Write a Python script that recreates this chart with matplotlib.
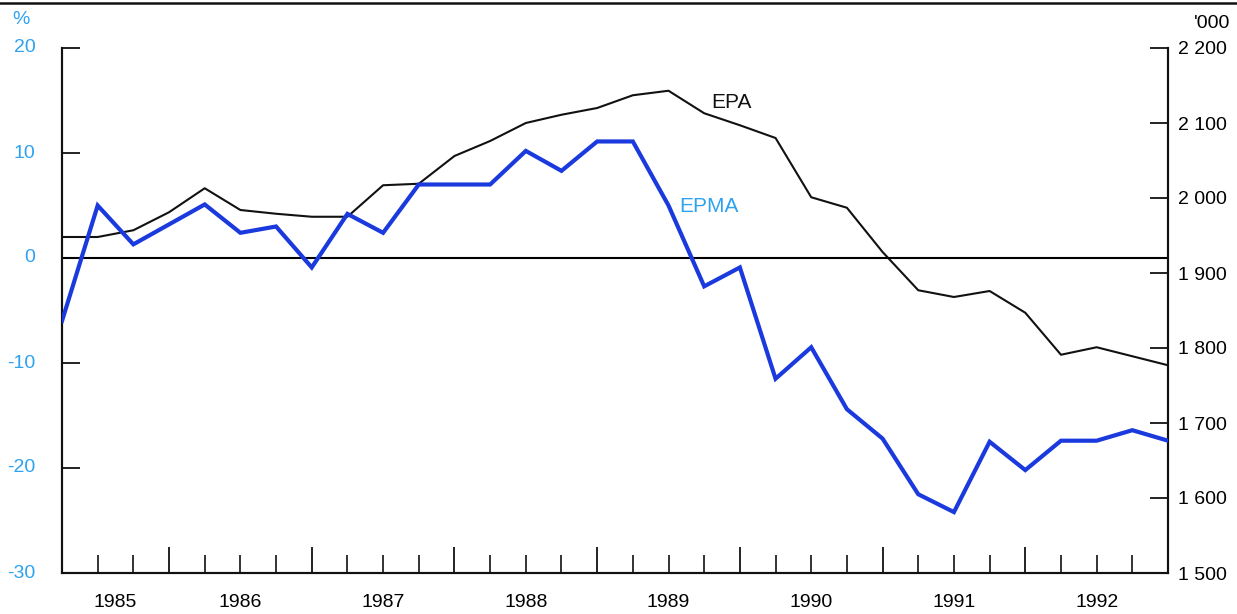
import matplotlib.pyplot as plt
from matplotlib.lines import Line2D
from matplotlib.ticker import FuncFormatter
import matplotlib.transforms as mtransforms

# quarterly observations, Q4 1984 .. Q3 1992
quarters = list(range(32))

epma = [-6.0, 5.0, 1.3, 3.2, 5.1, 2.4, 3.0, -0.9,
        4.2, 2.4, 7.0, 7.0, 7.0, 10.2, 8.3, 11.1,
        11.1, 5.0, -2.7, -0.9, -11.5, -8.5, -14.4, -17.2,
        -22.5, -24.2, -17.5, -20.2, -17.4, -17.4, -16.4, -17.4]

epa = [1948, 1948, 1957, 1981, 2013, 1984, 1979, 1975,
       1975, 2017, 2019, 2056, 2076, 2100, 2111, 2120,
       2137, 2143, 2113, 2097, 2080, 2001, 1987, 1928,
       1877, 1868, 1876, 1847, 1791, 1801, 1789, 1777]

yearLabels = ["1985", "1986", "1987", "1988", "1989", "1990", "1991", "1992"]
yearPositions = [1.5, 5, 9, 13, 17, 21, 25, 29]

leftTicks = [-30, -20, -10, 0, 10, 20]
rightTicks = [1500, 1600, 1700, 1800, 1900, 2000, 2100, 2200]

lightBlue = '#2ea2f0'
lineBlue = '#1a3ade'

plt.rcParams['font.family'] = ['Liberation Sans', 'DejaVu Sans']

fig = plt.figure(figsize=(12.37, 6.14), dpi=100)
ax = fig.add_axes([62/1237, 41/614, 1106/1237, 525/614])
ax2 = ax.twinx()

# EPA on the right scale, EPMA on the left
ax2.plot(quarters, epa, color='#111111', lw=1.5, zorder=2)
ax.plot(quarters, epma, color=lineBlue, lw=3.0, zorder=3, solid_joinstyle='miter')
ax.axhline(0, color='black', lw=1.5, zorder=1)

ax.set_zorder(ax2.get_zorder() + 1)
ax.patch.set_visible(False)

ax.set_xlim(0, 31)
ax.set_ylim(-30, 20)
ax2.set_ylim(1500, 2200)

for a in (ax, ax2):
    a.spines['top'].set_visible(False)
    for s in ('left', 'right', 'bottom'):
        a.spines[s].set_linewidth(1.5)
        a.spines[s].set_color('#111111')

# left axis
ax.set_yticks([t for t in leftTicks if t not in (0, -30)])
ax.set_yticklabels([])
ax.tick_params(axis='y', direction='in', length=13, width=1.3, color='#111111')
for t in leftTicks:
    ax.text(-0.024, t, str(t), transform=mtransforms.blended_transform_factory(ax.transAxes, ax.transData),
            ha='right', va='center', fontsize=14, color=lightBlue)

# right axis
ax2.set_yticks(rightTicks)
ax2.tick_params(axis='y', direction='in', length=13, width=1.3, color='#111111',
                labelsize=14, pad=7)
ax2.yaxis.set_major_formatter(FuncFormatter(lambda v, p: "{:,}".format(int(v)).replace(",", " ")))

# bottom ticks, taller at year boundaries
ax.set_xticks([3, 7, 11, 15, 19, 23, 27])
ax.set_xticks([q for q in range(1, 31) if (q - 3) % 4 != 0], minor=True)
ax.tick_params(axis='x', which='major', direction='in', length=19, width=1.3,
               color='#111111', labelbottom=False)
ax.tick_params(axis='x', which='minor', direction='in', length=13, width=1.2,
               color='#111111')
ax2.tick_params(axis='x', which='both', bottom=False)

xform = mtransforms.blended_transform_factory(ax.transData, ax.transAxes)
for pos, lab in zip(yearPositions, yearLabels):
    ax.text(pos, -0.057, lab, transform=xform, ha='center', va='center', fontsize=14)

# series labels and units
ax.text(18.2, 14.8, "EPA", fontsize=15, color='#111111', ha='left', va='center')
ax.text(17.3, 4.9, "EPMA", fontsize=15, color=lightBlue, ha='left', va='center')
fig.text(12/1237, 1 - 20/614, "%", fontsize=14, color=lightBlue, ha='left', va='center')
fig.text(1230/1237, 1 - 23/614, "'000", fontsize=14, ha='right', va='center')

fig.add_artist(Line2D([0, 1], [1 - 3/614, 1 - 3/614], color='#111111', lw=1.8))

fig.savefig("out.png", dpi=100)
